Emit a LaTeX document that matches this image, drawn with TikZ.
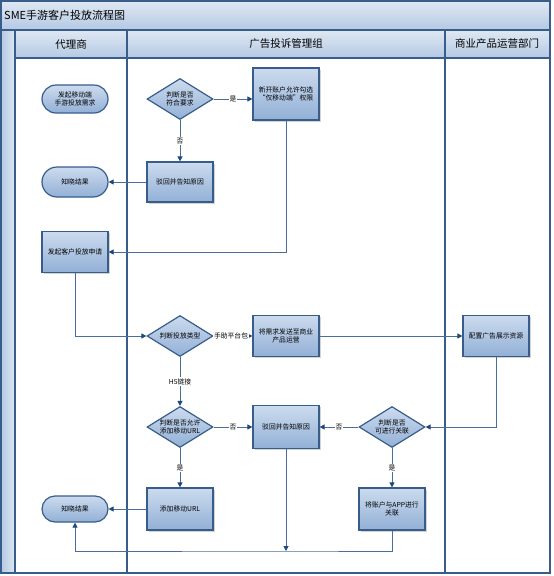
\documentclass[tikz,border=0pt]{standalone}
\usepackage{fontspec}
\setmainfont{Noto Sans CJK SC}
\usetikzlibrary{shapes.geometric,shapes.misc,shadows,arrows.meta}
\definecolor{lanecol}{HTML}{385D8A}
\definecolor{linecol}{HTML}{4A6D9C}
\definecolor{tipcol}{HTML}{1F497D}
\definecolor{boxtop}{HTML}{CCDBEE}
\definecolor{boxbot}{HTML}{92B0D6}
\definecolor{headtop}{HTML}{DFE8F3}
\definecolor{headbot}{HTML}{B4C9E3}
\begin{document}
\begin{tikzpicture}[x=1pt,y=1pt]
    \tikzstyle{every node}+=[inner sep=0pt]
    \tikzstyle{procbox}=[rectangle, draw=lanecol, line width=1.2pt, top color=boxtop, bottom color=boxbot, minimum width=66pt, minimum height=42pt, align=center, font=\fontsize{6.8}{8.5}\selectfont, drop shadow={shadow xshift=1.5pt, shadow yshift=-1.5pt, opacity=0.35}]
    \tikzstyle{termnode}=[rounded rectangle, draw=lanecol, line width=1.2pt, top color=boxtop, bottom color=boxbot, minimum width=66pt, minimum height=28pt, align=center, font=\fontsize{6.8}{8.5}\selectfont]
    \tikzstyle{decide}=[diamond, aspect=1.6, draw=lanecol, line width=1.2pt, top color=boxtop, bottom color=boxbot, minimum width=66pt, minimum height=41pt, align=center, font=\fontsize{6.8}{8.5}\selectfont]
    \tikzstyle{conn}=[draw=linecol, line width=1pt, -{Triangle[length=5pt,width=5pt,color=tipcol]}]
    \tikzstyle{edgelabel}=[fill=white, inner sep=1pt, font=\fontsize{6.8}{8}\selectfont]
    \tikzstyle{lane}=[draw=lanecol, line width=1.2pt]
    \useasboundingbox (0,0) rectangle (554,-576);
    \shade [top color=headtop, bottom color=headbot] (1,-1) rectangle (550,-30);
    \shade [top color=headtop, bottom color=headbot] (15,-30) rectangle (550,-58);
    \shade [left color=headbot, right color=headtop] (1,-30) rectangle (15,-573);
    \draw [lane] (1,-1) rectangle (550,-573);
    \draw [lane] (1,-30) -- (550,-30);
    \draw [lane] (15,-58) -- (550,-58);
    \draw [lane] (15,-30) -- (15,-573);
    \draw [lane] (127,-30) -- (127,-573);
    \draw [lane] (445,-30) -- (445,-573);
    \node [anchor=west, font=\fontsize{11}{13}\selectfont] (title) at (4,-15) {SME手游客户投放流程图};
    \node [font=\fontsize{10.5}{12}\selectfont] (laneA) at (71,-44) {代理商};
    \node [font=\fontsize{10.5}{12}\selectfont] (laneB) at (286,-44) {广告投诉管理组};
    \node [font=\fontsize{10.5}{12}\selectfont] (laneC) at (497,-44) {商业产品运营部门};
    \node [termnode] (start) at (75,-99) {发起移动端\\手游投放需求};
    \node [decide] (checkreq) at (180,-99) {判断是否\\符合要求};
    \node [procbox, minimum height=52pt] (openacct) at (286,-94) {新开账户允许勾选\\“仅移动端”权限};
    \node [procbox, minimum height=40pt] (rejectA) at (180,-182) {驳回并告知原因};
    \node [termnode, minimum height=30pt] (resultA) at (75,-182) {知晓结果};
    \node [procbox, minimum height=41pt] (apply) at (75,-252) {发起客户投放申请};
    \node [decide] (checktype) at (180,-336) {判断投放类型};
    \node [procbox, minimum height=41pt] (sendreq) at (286,-336) {将需求发送至商业\\产品运营};
    \node [procbox, minimum height=41pt] (config) at (496,-336) {配置广告展示资源};
    \node [decide] (checklink) at (392,-427) {判断是否\\可进行关联};
    \node [procbox, minimum height=43pt] (rejectB) at (286,-427) {驳回并告知原因};
    \node [decide] (checkurl) at (180,-427) {判断是否允许\\添加移动URL};
    \node [procbox] (addurl) at (180,-509) {添加移动URL};
    \node [procbox] (bindapp) at (392,-509) {将账户与APP进行\\关联};
    \node [termnode, minimum height=26pt] (resultB) at (75,-509) {知晓结果};
    \coordinate (joinpt) at (286,-551);
    \draw [conn] (checkreq.east) -- node [edgelabel] {是} (checkreq.east -| openacct.west);
    \draw [conn] (checkreq.south) -- node [edgelabel] {否} (rejectA.north);
    \draw [conn] (rejectA.west) -- (resultA.east);
    \draw [conn] (openacct.south) |- (apply.east);
    \draw [conn] (apply.south) |- (checktype.west);
    \draw [conn] (checktype.east) -- node [edgelabel, pos=0.45] {手助平台包} (sendreq.west);
    \draw [conn] (sendreq.east) -- (config.west);
    \draw [conn] (config.south) |- (checklink.east);
    \draw [conn] (checklink.west) -- node [edgelabel] {否} (rejectB.east);
    \draw [conn] (checklink.south) -- node [edgelabel] {是} (bindapp.north);
    \draw [conn] (checktype.south) -- node [edgelabel] {H5链接} (checkurl.north);
    \draw [conn] (checkurl.east) -- node [edgelabel] {否} (rejectB.west);
    \draw [conn] (checkurl.south) -- node [edgelabel] {是} (addurl.north);
    \draw [conn] (addurl.west) -- (resultB.east);
    \draw [conn] (rejectB.south) -- (joinpt);
    \draw [conn] (bindapp.south) |- (joinpt) -| (resultB.south);
\end{tikzpicture}
\end{document}
